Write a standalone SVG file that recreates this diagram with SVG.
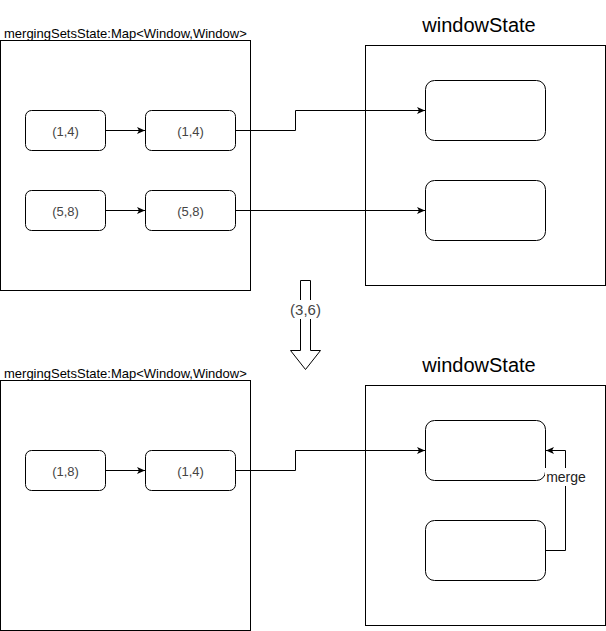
<svg xmlns="http://www.w3.org/2000/svg" width="606" height="631" viewBox="0 0 606 631">
<defs>
<style>
.box{fill:#fff;stroke:#000;stroke-width:1}
.node{fill:#fff;stroke:#000;stroke-width:1}
.ntext{font-family:"Liberation Sans",Arial,sans-serif;font-size:13px;fill:#444;text-anchor:middle}
.title{font-family:"Liberation Sans",Arial,sans-serif;font-size:13px;fill:#000}
.ws{font-family:"Liberation Sans",Arial,sans-serif;font-size:20px;fill:#000;text-anchor:middle}
.edge{fill:none;stroke:#000;stroke-width:1}
</style>
<marker id="arr" markerWidth="10" markerHeight="8" refX="8" refY="4" orient="auto" markerUnits="userSpaceOnUse">
<path d="M0,0.5 L8,4 L0,7.5 L2,4 z" fill="#000"/>
</marker>
</defs>

<g id="top-map">
<rect class="box" x="0.5" y="40.5" width="250" height="250"/>
<text class="title" x="4" y="37.5">mergingSetsState:Map&lt;Window,Window&gt;</text>
</g>
<g id="top-windowState">
<rect class="box" x="365.5" y="45.5" width="240" height="240"/>
<text class="ws" x="479" y="31.5">windowState</text>
</g>
<g id="t-n1"><rect class="node" x="25.5" y="110.5" width="80" height="40" rx="6"/><text class="ntext" x="65.5" y="135.5">(1,4)</text></g>
<g id="t-n2"><rect class="node" x="145.5" y="110.5" width="90" height="40" rx="6"/><text class="ntext" x="190.5" y="135.5">(1,4)</text></g>
<g id="t-n3"><rect class="node" x="25.5" y="190.5" width="80" height="40" rx="6"/><text class="ntext" x="65.5" y="215.5">(5,8)</text></g>
<g id="t-n4"><rect class="node" x="145.5" y="190.5" width="90" height="40" rx="6"/><text class="ntext" x="190.5" y="215.5">(5,8)</text></g>
<g id="t-w1"><rect class="node" x="425.5" y="80.5" width="120" height="60" rx="9"/></g>
<g id="t-w2"><rect class="node" x="425.5" y="180.5" width="120" height="60" rx="9"/></g>

<g id="transition">
<polygon points="300.5,280.5 310.5,280.5 310.5,350.5 320.5,350.5 305.5,369.5 290.5,350.5 300.5,350.5" fill="#fff" stroke="#000" stroke-width="1"/>
<rect x="289" y="300" width="33" height="19" fill="#fff"/>
<text x="305.5" y="315" font-family="'Liberation Sans',Arial,sans-serif" font-size="15" fill="#444" text-anchor="middle">(3,6)</text>
</g>

<g id="bottom-map">
<rect class="box" x="0.5" y="380.5" width="250" height="250"/>
<text class="title" x="4" y="377.5">mergingSetsState:Map&lt;Window,Window&gt;</text>
</g>
<g id="bottom-windowState">
<rect class="box" x="365.5" y="385.5" width="240" height="240"/>
<text class="ws" x="479" y="371.5">windowState</text>
</g>
<g id="b-n1"><rect class="node" x="25.5" y="450.5" width="80" height="40" rx="6"/><text class="ntext" x="65.5" y="475.5">(1,8)</text></g>
<g id="b-n2"><rect class="node" x="145.5" y="450.5" width="90" height="40" rx="6"/><text class="ntext" x="190.5" y="475.5">(1,4)</text></g>
<g id="b-w1"><rect class="node" x="425.5" y="420.5" width="120" height="60" rx="9"/></g>
<g id="b-w2"><rect class="node" x="425.5" y="520.5" width="120" height="60" rx="9"/></g>

<g id="connectors">
<path class="edge" d="M105.5,130.5 H145" marker-end="url(#arr)"/>
<path class="edge" d="M105.5,210.5 H145" marker-end="url(#arr)"/>
<path class="edge" d="M235.5,130.5 H295.5 V110.5 H425" marker-end="url(#arr)"/>
<path class="edge" d="M235.5,210.5 H425" marker-end="url(#arr)"/>
<path class="edge" d="M105.5,470.5 H145" marker-end="url(#arr)"/>
<path class="edge" d="M235.5,470.5 H295.5 V450.5 H425" marker-end="url(#arr)"/>
<path class="edge" d="M545.5,550.5 H565.5 V450.5 H546" marker-end="url(#arr)"/>
<rect x="545" y="468" width="42" height="18" fill="#fff"/>
<text x="566" y="482" font-family="'Liberation Sans',Arial,sans-serif" font-size="14" fill="#222" text-anchor="middle">merge</text>
</g>
</svg>
